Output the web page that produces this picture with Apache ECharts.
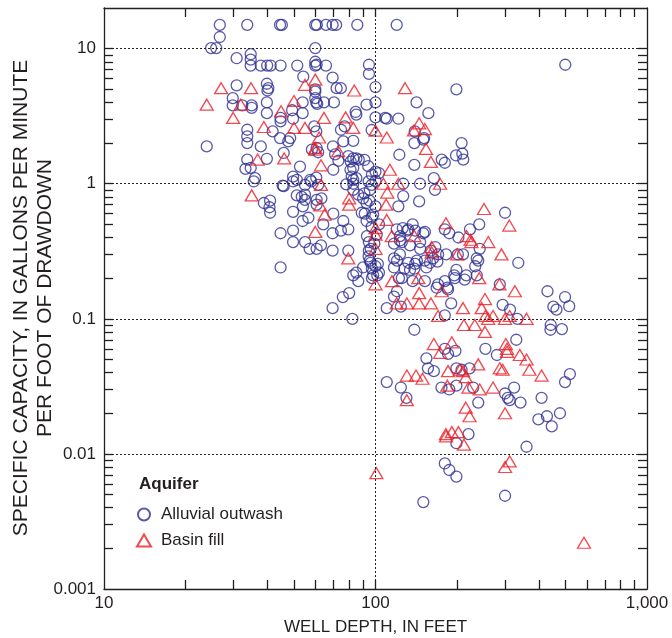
<!DOCTYPE html>
<html><head><meta charset="utf-8">
<script src="https://cdn.jsdelivr.net/npm/echarts@6/dist/echarts.min.js"></script>
<style>html,body{margin:0;padding:0;background:#fff}#chart{width:672px;height:638px}</style>
</head><body><div id="chart"></div>
<script>
// Alluvial outwash wells: [well depth (ft), specific capacity (gal/min/ft)]
const alluvialOutwash = [
[26.7,15],[33.7,15],[44.5,15],[45.2,15],[60,15],[60.8,15],[65.7,15],[69.5,15],[71.6,15],[85.7,15],[119.7,15],
[26.7,12.2],[24.8,10.1],[25.9,10.1],[60,10.1],
[30.8,8.5],[34.7,9.1],[34.7,8.3],[34.7,7.5],
[37.8,7.5],[39.9,7.5],[41.1,7.5],[44.7,7.5],[51.5,7.5],[60,7.5],[60.7,7.6],[65.7,7.5],[60,8.0],
[54.2,6.2],[69.5,6.1],[94.6,7.6],[94.6,6.5],
[100,5.2],[100,4.0],[100,3.1],
[30.8,5.35],[39.8,5.5],[40.3,5.1],[40,4.9],
[29.8,4.3],[29.8,3.8],[32.3,3.8],[35,3.8],[35,3.65],
[39.8,4.0],[39.8,3.33],[44.7,3.07],[44.7,2.9],[49.3,3.5],[49.7,3.03],
[53.9,4.0],[53.9,3.33],
[60,5.0],[60,4.8],[60,4.3],[60.5,4.0],[61,3.9],[64.6,4.0],[70.3,4.0],[71.9,5.1],[74.5,5.1],
[84.5,3.4],[85,3.25],[92.7,3.85],[110,3.03],[121.4,3.03],[108.5,3.07],[96.8,2.5],
[141.6,4.0],[156.6,3.33],[139.5,2.44],[151,2.18],[139,2.0],[150,2.12],
[175.4,1.51],[180,1.43],[198,1.62],[207.5,2.0],[208.8,1.67],[210.5,1.51],[122.4,1.64],[139,1.38],
[198.6,5.0],[500,7.6],
[23.9,1.89],[33.7,2.51],[33.7,2.24],[33.7,2.0],[37.8,1.89],[33.7,1.51],[39.8,1.53],
[33.2,1.29],[34.7,1.31],[36,1.1],[41.8,2.44],
[44.5,2.18],[47.7,2.06],[48.5,2.18],[45.9,1.69],
[59.5,2.66],[60.5,2.44],[58.3,1.79],[60.7,1.84],[61.5,1.71],
[52.7,1.34],[49.7,1.13],[45.5,0.97],[58,1.04],[60.5,1.11],[61.5,0.98],
[69.9,1.27],[69.7,1.89],[71,1.65],[73,1.48],
[74.6,2.51],[76.1,2.06],[82.8,2.08],[77,2.66],
[79.4,1.6],[82.8,1.54],[85,1.54],[86.8,1.51],[81,1.46],[82.8,1.31],
[82.8,1.07],[85,1.1],[80.9,1.27],[81.7,1.13],[82.8,1.0],
[94.3,1.04],[96.8,0.98],[100,1.23],[91,1.5],[94,1.35],[97,1.17],[103,1.2],[100,1.05],
[35.6,1.04],[45.9,0.96],[49.7,1.04],[55,0.98],[51.3,1.07],[53.5,0.8],[57.5,1.07],
[51.3,0.82],[55,0.83],[55,0.76],[60.7,0.76],[63.2,0.78],[60.7,0.70],[54,0.68],
[38.8,0.72],[40.9,0.75],[40.7,0.67],[40.9,0.61],[49.7,0.62],[53.9,0.53],[56.6,0.56],
[44.7,0.43],[49.7,0.45],[49.7,0.37],[55,0.37],[57.2,0.33],[60.7,0.33],[63,0.35],
[69.5,0.43],[69.9,0.6],[64.2,0.5],[69.5,0.32],[76.1,0.53],[74.6,0.45],[79.4,0.46],[79.4,0.32],
[44.7,0.24],[90,0.24],[82.8,0.21],[85,0.22],[86.4,0.19],[80,0.155],[75.8,0.145],[69.5,0.12],[82.2,0.1],
[78,0.99],[82.8,0.9],[86.4,0.83],[90,0.78],[92.7,0.72],[91.3,0.6],[95.3,0.9],[100,0.68],
[92.7,0.53],[98,0.59],[96.8,0.48],[94.3,0.29],[95.3,0.27],[100,0.245],[98,0.21],
[94.5,0.37],[94.5,0.32],[101.5,0.21],
[91,0.85],[95,0.75],[89,0.61],[93,0.41],[96,0.33],[103,0.22],[97,0.2],
[97,0.56],[103,0.5],[101,0.42],[99,0.36],[96,0.26],[102,0.255],[97,0.235],
[145.9,1.0],[164,1.1],[165.6,0.9],[126.5,1.0],[126.5,0.81],[121.4,0.68],[144.8,0.74],
[300,0.61],[241,0.5],[222.9,0.46],[187,0.43],[180,0.46],[152,0.44],
[242,0.33],[236,0.28],[233,0.245],[335.7,0.26],
[152,0.27],[158.8,0.26],[163,0.28],[169,0.265],[182,0.3],
[132,0.46],[119.7,0.46],[123,0.41],[125,0.37],[134,0.35],
[117,0.28],[123,0.3],[128,0.235],[134,0.23],
[202,0.4],[210,0.3],[239,0.27],
[236,0.21],[198.6,0.23],[195,0.21],[180,0.19],[185,0.165],[168,0.17],[154,0.24],
[166,0.34],[140,0.45],[146,0.37],[150,0.43],[160,0.32],[146,0.33],
[142,0.27],[139,0.235],[152,0.19],[137,0.19],
[120,0.27],[117,0.24],[122,0.2],[125,0.2],[120,0.16],[117,0.146],[124,0.123],[110,0.12],
[117,0.36],[123,0.38],[126,0.47],[131,0.45],[137,0.5],
[132,0.26],[140,0.255],[170,0.3],[201,0.3],[216,0.21],[213,0.195],
[287,0.18],[430,0.16],[452,0.123],[464,0.117],[499,0.145],[517,0.124],
[442,0.09],[441,0.083],[486,0.084],[139,0.083],
[190,0.13],[180,0.106],[170,0.18],[184,0.17],[196,0.2],
[294,0.127],[313,0.117],[333,0.1],[330,0.07],[254,0.06],[280,0.054],
[180,0.06],[185,0.055],[197,0.058],[154,0.051],[156,0.043],[164,0.041],
[198.6,0.043],[207.5,0.042],[222,0.043],[175,0.031],[187,0.03],[198.6,0.032],[229,0.031],[239,0.024],
[300,0.028],[307,0.026],[312,0.025],[342,0.024],[324,0.031],[409,0.026],
[398,0.018],[428,0.019],[446,0.016],[360,0.0113],[180,0.0085],[187,0.0076],[198.6,0.0068],
[198.6,0.012],[220,0.014],[150,0.0044],[300,0.0049],[499,0.034],[520,0.039],[478,0.02],
[110,0.034],[124,0.031],[130,0.026]
];

// Basin fill wells: [well depth (ft), specific capacity (gal/min/ft)]
const basinFill = [
[27,5.1],[34.8,5.1],[23.9,3.85],[31.9,3.85],[29.9,3.07],[38.8,2.63],[44.9,3.44],[50.1,4.1],[50.1,2.59],[55,2.59],
[55,5.4],[60,5.9],[64.6,3.07],[62,2.2],[60,1.84],[60,1.79],[36.8,1.51],[46.1,1.54],[63,1.37],[72.9,1.74],
[77.6,3.1],[82.8,2.59],[83.5,4.9],[100,2.47],[63,0.98],
[128.5,5.1],[144.8,2.8],[138.6,2.48],[152,2.54],[153.5,1.81],[160,1.45],[110,2.2],
[35,0.82],[60,0.44],[79.4,0.28],[62.5,0.69],[65,0.59],[80,0.78],[80,0.7],
[100,0.47],[100,0.42],[100,0.33],[100,0.18],
[113,1.27],[106.9,1.0],[121.4,1.0],[172.9,1.0],[110.5,0.86],[109.4,0.7],[110,0.54],[114.8,0.41],[139,0.41],
[161,0.34],[161,0.31],[181.7,0.51],[216.5,0.41],[225.7,0.37],[224,0.385],[260.3,0.37],[251,0.65],[311,0.49],[291,0.3],[200,0.3],
[115,0.19],[143.8,0.2],[144.8,0.155],[130.5,0.13],[119.7,0.13],[144.8,0.13],[160,0.13],[170,0.105],[175.4,0.16],
[210,0.12],[253,0.14],[246,0.12],[254,0.105],[260,0.1],[271,0.105],[300,0.1],[312,0.105],[360,0.1],[326,0.16],
[286,0.18],[241,0.2],[211.7,0.09],[253,0.08],[232,0.09],
[164,0.065],[191,0.067],[173,0.056],[302,0.065],[305,0.06],[305,0.057],[340,0.054],[360,0.05],[369,0.042],[409,0.038],
[239,0.046],[287,0.043],[294,0.042],[185,0.041],[204.8,0.042],[215,0.037],[210,0.041],[130.5,0.038],[141,0.038],[149,0.036],
[184,0.032],[220,0.031],[242,0.03],[271,0.031],[130.5,0.025],[215,0.022],[222,0.019],[300,0.02],
[181.7,0.014],[191,0.0145],[202,0.0145],[182,0.0135],[211.7,0.0117],[300,0.008],[312,0.0088],[100.8,0.0072],[586,0.0022]
];

const seriesNames = ['Alluvial outwash', 'Basin fill'];
const xLabelValues = [10, 100, 1000];
const xLabelTexts = ['10', '100', '1,000'];
const yLabelValues = [0.001, 0.01, 0.1, 1, 10];
const yLabelTexts = ['0.001', '0.01', '0.1', '1', '10'];
const xTickValues = [20,30,40,50,60,70,80,90,100,200,300,400,500,600,700,800,900];
const yTickValues = [0.002,0.003,0.004,0.005,0.006,0.007,0.008,0.009,0.01,
  0.02,0.03,0.04,0.05,0.06,0.07,0.08,0.09,0.1,
  0.2,0.3,0.4,0.5,0.6,0.7,0.8,0.9,1,
  2,3,4,5,6,7,8,9,10];
const xGridValues = [100];
const yGridValues = [10, 1, 0.1, 0.01];
const xTitle = 'WELL DEPTH, IN FEET';
const yTitle = 'SPECIFIC CAPACITY, IN GALLONS PER MINUTE\nPER FOOT OF DRAWDOWN';
const legendTitle = 'Aquifer';

const FONT = '"Liberation Sans", Arial, sans-serif';
const INK = '#231f20';
const NAVY = '#2e3192';
const RED = '#ed1c24';

function pick(vals, texts, v) {
  let best = 0, bd = Infinity;
  vals.forEach((a, i) => { const d = Math.abs(Math.log10(a) - Math.log10(v)); if (d < bd) { bd = d; best = i; } });
  return texts[best];
}

function makeX(pos, withLabels) {
  return {
    type: 'log', logBase: 10, min: 10, max: 1000, position: pos, gridIndex: 0,
    axisLine: { show: true, onZero: false, lineStyle: { color: INK, width: 1.3 } },
    axisTick: { show: true, inside: true, length: 9, customValues: xTickValues, lineStyle: { color: INK, width: 1.3 } },
    axisLabel: withLabels ? {
      show: true, customValues: xLabelValues, margin: 6, fontSize: 17, fontFamily: FONT, color: INK,
      showMinLabel: true, showMaxLabel: true,
      formatter: v => pick(xLabelValues, xLabelTexts, v)
    } : { show: false },
    splitLine: { show: false }, minorTick: { show: false }
  };
}
function makeY(pos, withLabels) {
  return {
    type: 'log', logBase: 10, min: 0.001, max: 20, position: pos, gridIndex: 0,
    axisLine: { show: true, onZero: false, lineStyle: { color: INK, width: 1.3 } },
    axisTick: { show: true, inside: true, length: 9, customValues: yTickValues, lineStyle: { color: INK, width: 1.3 } },
    axisLabel: withLabels ? {
      show: true, customValues: yLabelValues, margin: 8, fontSize: 17, fontFamily: FONT, color: INK,
      showMinLabel: true, showMaxLabel: true,
      formatter: v => pick(yLabelValues, yLabelTexts, v)
    } : { show: false },
    splitLine: { show: false }, minorTick: { show: false }
  };
}

const chart = echarts.init(document.getElementById('chart'), null, { renderer: 'canvas' });
chart.setOption({
  animation: false,
  backgroundColor: '#fff',
  grid: { left: 104, top: 8, right: 25, bottom: 49, containLabel: false },
  xAxis: [makeX('bottom', true), makeX('top', false)],
  yAxis: [makeY('left', true), makeY('right', false)],
  legend: {
    orient: 'vertical', left: 136, top: 506, padding: 0, itemWidth: 14, itemHeight: 12, itemGap: 9,
    textStyle: { fontSize: 17, fontFamily: FONT, color: INK, padding: [0, 0, 0, 5] },
    data: seriesNames, selectedMode: false
  },
  graphic: [
    { type: 'text', x: 375.5, y: 627, style: { text: xTitle, align: 'center', verticalAlign: 'middle', font: '17px ' + FONT, fill: INK } },
    { type: 'text', x: 33, y: 298, rotation: Math.PI / 2, style: { text: yTitle, align: 'center', verticalAlign: 'middle', lineHeight: 24, font: '21px ' + FONT, fill: INK } },
    { type: 'text', x: 139, y: 484, style: { text: legendTitle, align: 'left', verticalAlign: 'middle', font: 'bold 17px ' + FONT, fill: INK } }
  ],
  series: [
    {
      name: seriesNames[0], type: 'scatter', xAxisIndex: 0, yAxisIndex: 0,
      data: alluvialOutwash, symbol: 'circle', symbolSize: 11,
      itemStyle: { color: 'rgba(255,255,255,0)', borderColor: NAVY, borderWidth: 1.3 },
      emphasis: { disabled: true },
      markLine: {
        silent: true, symbol: ['none', 'none'], label: { show: false }, animation: false,
        lineStyle: { color: INK, type: [2, 2], width: 1 },
        emphasis: { disabled: true },
        data: xGridValues.map(v => ({ xAxis: v })).concat(yGridValues.map(v => ({ yAxis: v })))
      },
      z: 3
    },
    {
      name: seriesNames[1], type: 'scatter', xAxisIndex: 0, yAxisIndex: 0,
      data: basinFill, symbol: 'triangle', symbolSize: [13, 11],
      itemStyle: { color: 'rgba(255,255,255,0)', borderColor: RED, borderWidth: 1.3 },
      emphasis: { disabled: true },
      z: 4
    }
  ]
});
</script>
</body></html>
